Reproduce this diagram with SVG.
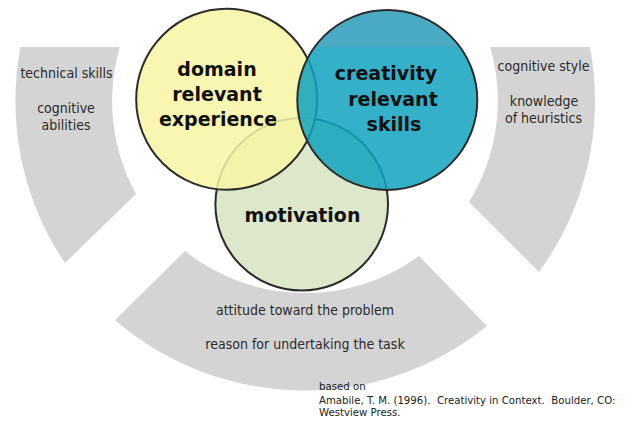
<svg xmlns="http://www.w3.org/2000/svg" width="628" height="443" viewBox="0 0 628 443">
<style>
.band{fill:#d4d4d4;stroke:none}
.ring{fill:none;stroke:#2b2b2b;stroke-width:2}
.lbl{font-family:"DejaVu Sans","Verdana",sans-serif;font-weight:bold;font-size:19px;fill:#111;text-anchor:middle}
.txt{font-family:"DejaVu Sans Condensed","DejaVu Sans",sans-serif;font-size:14px;fill:#2a2a2a;text-anchor:middle}
.ref{font-family:"DejaVu Sans Condensed","DejaVu Sans",sans-serif;font-size:11.3px;fill:#222;white-space:pre}
</style>
<rect width="628" height="443" fill="#ffffff"/>
<g id="band-left">
<path class="band" d="M 20.5 47 A 290 290 0 0 0 65 263 L 136 194 A 193 193 0 0 1 119.8 47 Z"/>
<text class="txt" x="66.5" y="78">technical skills</text>
<text class="txt" x="66" y="113">cognitive</text>
<text class="txt" x="66" y="130">abilities</text>
</g>
<g id="band-right">
<path class="band" d="M 490.2 47 A 193 193 0 0 1 469 202 L 539 272 A 290 290 0 0 0 590 47 Z"/>
<text class="txt" x="543.5" y="71">cognitive style</text>
<text class="txt" x="544" y="106">knowledge</text>
<text class="txt" x="543.5" y="123">of heuristics</text>
</g>
<g id="band-bottom">
<path class="band" d="M 115 320 A 290 290 0 0 0 487 326 L 419 256 A 193 193 0 0 1 185 251 Z"/>
<text class="txt" x="305" y="315">attitude toward the problem</text>
<text class="txt" x="305" y="349">reason for undertaking the task</text>
</g>
<g id="motivation">
<circle cx="301.7" cy="204.3" r="86.3" fill="#dde8ca"/>
<circle class="ring" cx="301.7" cy="204.3" r="86.3"/>
<text class="lbl" x="302.5" y="222">motivation</text>
</g>
<g id="domain">
<circle cx="226.7" cy="99.2" r="90.5" fill="#f7f4a3" fill-opacity="0.85"/>
<circle class="ring" cx="226.7" cy="99.2" r="90.5"/>
<text class="lbl" x="217" y="76">domain</text>
<text class="lbl" x="217" y="101">relevant</text>
<text class="lbl" x="218" y="126">experience</text>
</g>
<g id="creativity">
<path d="M 314.6 47 A 90 90 0 1 0 460 47 Z" fill="#11a2be" fill-opacity="0.85"/>
<path d="M 314.6 47 A 90 90 0 0 1 460 47 Z" fill="#2a9bb9" fill-opacity="0.85"/>
<circle class="ring" cx="387.3" cy="100" r="90"/>
<text class="lbl" x="386" y="80">creativity</text>
<text class="lbl" x="393" y="106">relevant</text>
<text class="lbl" x="394" y="131">skills</text>
</g>
<g id="connectors"/>
<g id="source">
<text class="ref" x="319" y="390">based on</text>
<text class="ref" x="319" y="404">Amabile, T. M. (1996).  Creativity in Context.  Boulder, CO:</text>
<text class="ref" x="319" y="416">Westview Press.</text>
</g>
</svg>
